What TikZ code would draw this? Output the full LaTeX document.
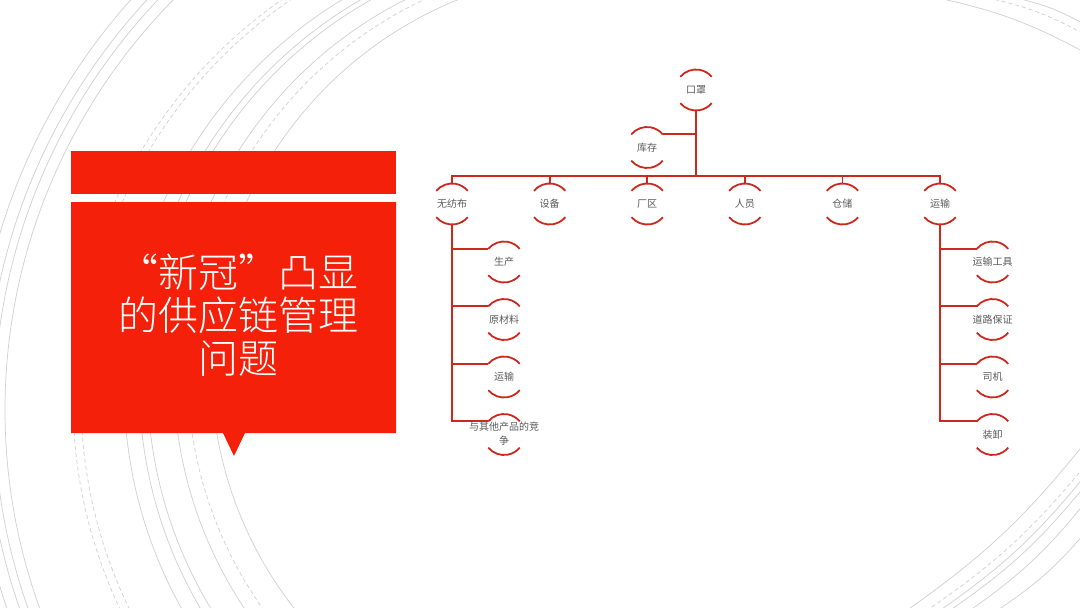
\documentclass[tikz,border=0pt]{standalone}
\usepackage{fontspec}
\newfontfamily\cjk{Noto Sans CJK SC}
\newfontfamily\cjklight{Noto Sans CJK SC}[UprightFont=* Light]
\definecolor{boxred}{RGB}{244,32,10}
\definecolor{linkred}{RGB}{204,40,30}
\definecolor{lblgray}{RGB}{90,90,90}
\definecolor{bggray}{RGB}{208,208,208}
\newcommand\hubarcs[1]{%
  \draw[link] (#1.140) arc[start angle=140,end angle=40,radius=20.5pt];
  \draw[link] (#1.220) arc[start angle=220,end angle=320,radius=20.5pt];}
\begin{document}
\begin{tikzpicture}[x=1pt,y=1pt,
  link/.style={draw=linkred,line width=1.8pt},
  hub/.style={circle,minimum size=41pt,inner sep=0pt,outer sep=0pt,
    font=\cjk\fontsize{10}{14}\selectfont,text=lblgray},
  bgl/.style={draw=bggray,line width=0.7pt},
  bgd/.style={bgl,dash pattern=on 4pt off 3pt}]
\useasboundingbox (0,0) rectangle (1080,-608);
\fill[white] (0,0) rectangle (1080,-608);
% background arcs
\begin{scope}
\clip (0,0) rectangle (1080,-608);
\foreach \t/\sty in {0/bgd,0.057/bgd,0.37/bgl,0.48/bgl,0.54/bgl,0.73/bgl,0.83/bgd,1/bgl}{
  \draw[\sty] ({561+45*\t},{-400+34*\t}) ++(95:{488-93*\t})
    arc[start angle=95,end angle=260,radius={488-93*\t}];}
\foreach \r in {584,595,603,615}{
  \draw[bgl] (589,-410) ++(122:\r) arc[start angle=122,end angle=218,radius=\r];}
\draw[bgl] (938,2) to[bend left=8] (1084,-52);
\draw[bgd] (988,2) to[bend left=8] (1084,-34);
\draw[bgl] (1016,2) to[bend left=8] (1084,-24);
\draw[bgl] (906,-611) to[bend right=8] (1084,-444);
\draw[bgd] (926,-611) to[bend right=8] (1084,-467);
\draw[bgl] (939,-611) to[bend right=8] (1084,-477);
\draw[bgl] (949,-611) to[bend right=8] (1084,-487);
\draw[bgl] (969,-611) to[bend right=8] (1084,-504);
\draw[bgl] (996,-611) to[bend right=8] (1084,-534);
\end{scope}
% title block
\fill[boxred] (71,-151) rectangle (396,-194);
\fill[boxred] (71,-202) -- (396,-202) -- (396,-433) -- (245,-433) -- (234,-456)
  -- (223,-433) -- (71,-433) -- cycle;
\node[font=\cjklight\fontsize{40}{43}\selectfont,text=white,align=center] (title)
  at (238,-315) {“新冠”凸显\\的供应链管理\\问题};
% chart nodes
\node[hub] (kz) at (696,-90) {口罩};
\node[hub] (kc) at (647,-147.5) {库存};
\coordinate (bus) at (0,-176);
\node[hub] (c1) at (452,-204) {无纺布};
\node[hub] (c2) at (549.6,-204) {设备};
\node[hub] (c3) at (647.2,-204) {厂区};
\node[hub] (c4) at (744.8,-204) {人员};
\node[hub] (c5) at (842.4,-204) {仓储};
\node[hub] (c6) at (940,-204) {运输};
\node[hub] (l1) at (504,-262) {生产};
\node[hub] (l2) at (504,-319.5) {原材料};
\node[hub] (l3) at (504,-377) {运输};
\node[hub] (l4) at (504,-434.5) {\makebox[0pt]{\begin{tabular}{@{}c@{}}与其他产品的竞\\争\end{tabular}}};
\node[hub] (r1) at (992.5,-262) {\makebox[0pt]{运输工具}};
\node[hub] (r2) at (992.5,-319.5) {\makebox[0pt]{道路保证}};
\node[hub] (r3) at (992.5,-377) {司机};
\node[hub] (r4) at (992.5,-434.5) {装卸};
\foreach \n in {kz,kc,c1,c2,c3,c4,c5,c6,l1,l2,l3,l4,r1,r2,r3,r4}{\hubarcs{\n}}
% connectors
\draw[link] (kz.south) -- (kz.south |- bus);
\draw[link] (kc.40) -- (kc.40 -| kz.south);
\draw[link] (c1.north) -- (c1.north |- bus) -- (c6.north |- bus) -- (c6.north);
\foreach \c in {c2,c3,c4,c5}{\draw[link] (\c.north |- bus) -- (\c.north);}
\draw[link] (c1.south) |- (l4.140);
\foreach \s in {l1,l2,l3}{\draw[link] (c1.south |- \s.140) -- (\s.140);}
\draw[link] (c6.south) |- (r4.140);
\foreach \s in {r1,r2,r3}{\draw[link] (c6.south |- \s.140) -- (\s.140);}
\end{tikzpicture}
\end{document}
